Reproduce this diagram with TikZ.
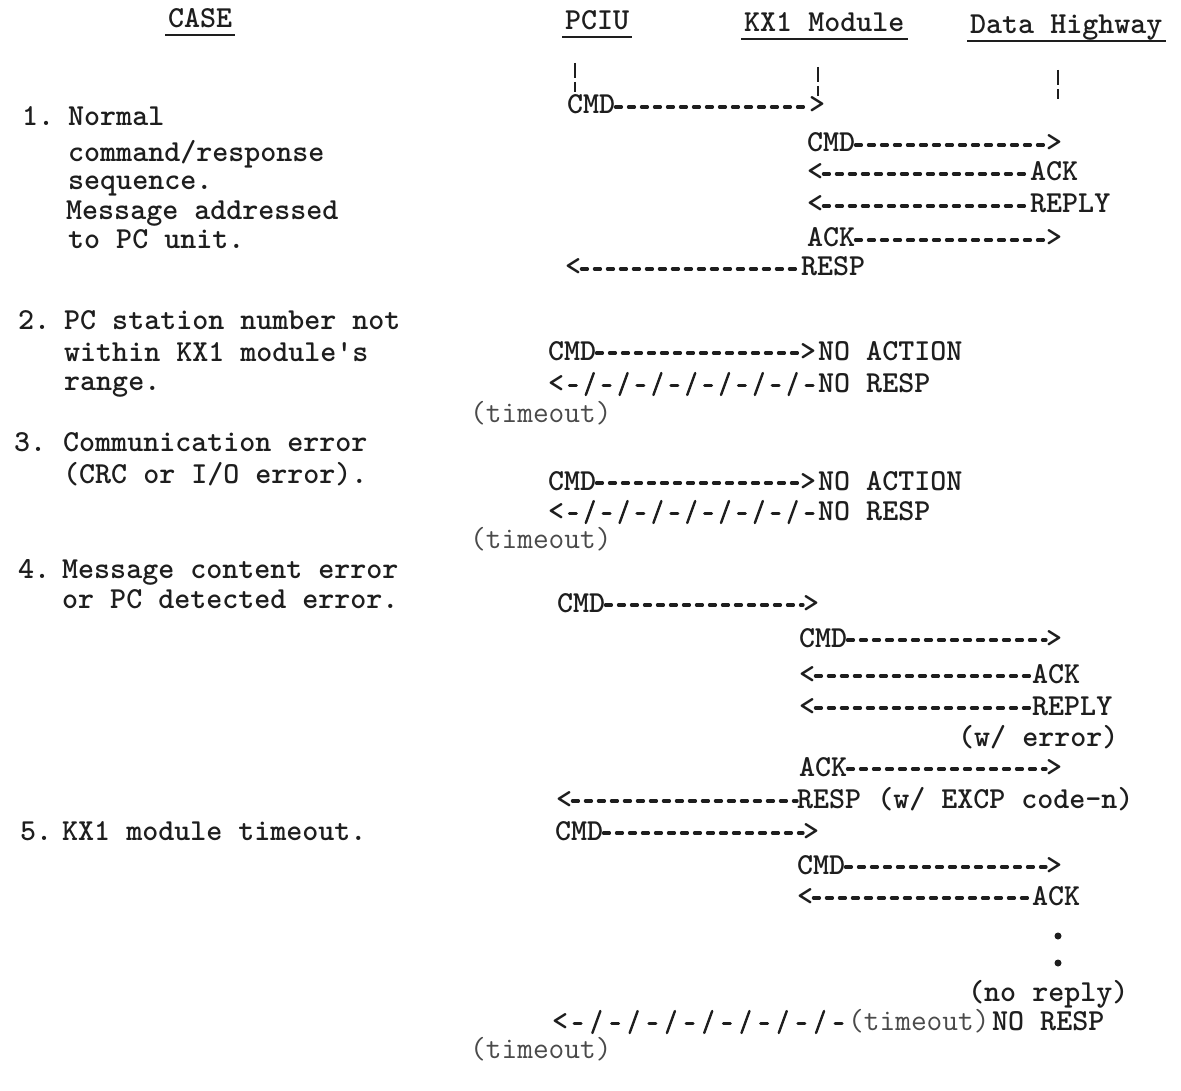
\documentclass[tikz,border=0pt]{standalone}
\usepackage{fontspec}
\usetikzlibrary{calc}
\definecolor{ink}{HTML}{1E1E1E}
\definecolor{ink2}{HTML}{4A4A4A}
\newcommand\dashconn[2]{\draw[dsh] ([yshift=7pt]#1.base east) -- ([yshift=7pt]#2.base west);}
\newcommand\slashconn[3]{%
  \path ([yshift=7pt]#1.base east) coordinate (sL) ([yshift=7pt]#2.base west) coordinate (sR);
  \foreach \i in {0,...,#3}{%
    \pgfmathsetmacro\f{(\i+0.5)/(#3+1)}
    \coordinate (sP) at ($(sL)!\f!(sR)$);
    \ifodd\i\relax
      \draw[slw] ([shift={(-4pt,-10pt)}]sP) -- ([shift={(4pt,12pt)}]sP);
    \else
      \draw[sld] ([xshift=-3.5pt]sP) -- ([xshift=3.5pt]sP);
    \fi
  }}
\begin{document}
\begin{tikzpicture}[x=1pt,y=-1pt,
  txt/.style={font=\ttfamily\bfseries\fontsize{30.5}{34}\selectfont, anchor=base west, inner sep=0pt, text=ink},
  lite/.style={txt, font=\ttfamily\fontsize{30.5}{34}\selectfont, text=ink2},
  dsh/.style={draw=ink, line width=3.2pt, line cap=round, dash pattern=on 6pt off 7pt},
  slw/.style={draw=ink, line width=2.4pt, line cap=round},
  sld/.style={draw=ink, line width=3pt, line cap=round},
  ul/.style={draw=ink, line width=2.4pt},
  life/.style={draw=ink, line width=2.4pt},
  dotm/.style={fill=ink}]
\fill[white] (0,0) rectangle (1181,1091);
\useasboundingbox (0,0) rectangle (1181,1091);

% ---------- headers ----------
\node[txt] (hcase) at (168,28) {CASE};
\node[txt] (hpciu) at (565,30) {PCIU};
\node[txt] (hkx) at (744,32) {KX1 Module};
\node[txt] (hdh) at (970,34) {Data Highway};
\foreach \h in {hcase,hpciu,hkx,hdh}
  \draw[ul] ([shift={(-3pt,-7pt)}]\h.base west) -- ([shift={(3pt,-7pt)}]\h.base east);

% ---------- lifelines ----------
\coordinate (l1) at (575,63);
\coordinate (l2) at (818,67);
\coordinate (l3) at (1058,70);
\foreach \l in {l1,l2,l3}{
  \draw[life] (\l) -- ++(0,15);
  \draw[life] ([yshift=-19pt]\l) -- ++(0,10);
}

% ---------- left column: cases ----------
\node[txt] (n1) at (22,126) {1.};
\node[txt] (t1a) at (68,126) {Normal};
\node[txt] (t1b) at (68,162) {command/response};
\node[txt] (t1c) at (68,190) {sequence.};
\node[txt] (t1d) at (66,220) {Message addressed};
\node[txt] (t1e) at (68,249) {to PC unit.};

\node[txt] (n2) at (18,330) {2.};
\node[txt] (t2a) at (64,330) {PC station number not};
\node[txt] (t2b) at (64,362) {within KX1 module's};
\node[txt] (t2c) at (64,390) {range.};

\node[txt] (n3) at (14,451) {3.};
\node[txt] (t3a) at (63,451) {Communication error};
\node[txt] (t3b) at (63,483) {(CRC or I/O error).};

\node[txt] (n4) at (18,578) {4.};
\node[txt] (t4a) at (62,578) {Message content error};
\node[txt] (t4b) at (62,608) {or PC detected error.};

\node[txt] (n5) at (20,840) {5.};
\node[txt] (t5a) at (62,840) {KX1 module timeout.};

% ---------- case 1 ----------
\node[txt] (r1a) at (567,114) {CMD};
\node[txt] (r1at) at (809,114) {>};
\dashconn{r1a}{r1at}
\node[txt] (r1b) at (807,152) {CMD};
\node[txt] (r1bt) at (1046,152) {>};
\dashconn{r1b}{r1bt}
\node[txt] (r1ct) at (807,181) {<};
\node[txt] (r1c) at (1030,181) {ACK};
\dashconn{r1ct}{r1c}
\node[txt] (r1dt) at (807,213) {<};
\node[txt] (r1d) at (1030,213) {REPLY};
\dashconn{r1dt}{r1d}
\node[txt] (r1e) at (807,247) {ACK};
\node[txt] (r1et) at (1046,247) {>};
\dashconn{r1e}{r1et}
\node[txt] (r1ft) at (565,276) {<};
\node[txt] (r1f) at (801,276) {RESP};
\dashconn{r1ft}{r1f}

% ---------- case 2 ----------
\node[txt] (r2a) at (548,360) {CMD};
\node[txt] (r2at) at (800,360) {>};
\node[txt] (r2an) at (818,360) {NO ACTION};
\dashconn{r2a}{r2at}
\node[txt] (r2bt) at (548,392) {<};
\node[txt] (r2b) at (818,392) {NO RESP};
\slashconn{r2bt}{r2b}{14}
\node[lite] (r2c) at (470,422) {(timeout)};

% ---------- case 3 ----------
\node[txt] (r3a) at (548,490) {CMD};
\node[txt] (r3at) at (800,490) {>};
\node[txt] (r3an) at (818,490) {NO ACTION};
\dashconn{r3a}{r3at}
\node[txt] (r3bt) at (548,520) {<};
\node[txt] (r3b) at (818,520) {NO RESP};
\slashconn{r3bt}{r3b}{14}
\node[lite] (r3c) at (470,548) {(timeout)};

% ---------- case 4 ----------
\node[txt] (r4a) at (557,612) {CMD};
\node[txt] (r4at) at (803,612) {>};
\dashconn{r4a}{r4at}
\node[txt] (r4b) at (799,647) {CMD};
\node[txt] (r4bt) at (1046,647) {>};
\dashconn{r4b}{r4bt}
\node[txt] (r4ct) at (799,683) {<};
\node[txt] (r4c) at (1032,683) {ACK};
\dashconn{r4ct}{r4c}
\node[txt] (r4dt) at (799,715) {<};
\node[txt] (r4d) at (1032,715) {REPLY};
\dashconn{r4dt}{r4d}
\node[txt] (r4w) at (958,746) {(w/ error)};
\node[txt] (r4e) at (799,776) {ACK};
\node[txt] (r4et) at (1046,776) {>};
\dashconn{r4e}{r4et}
\node[txt] (r4ft) at (556,808) {<};
\node[txt] (r4f) at (797,808) {RESP (w/ EXCP code-n)};
\dashconn{r4ft}{r4f}

% ---------- case 5 ----------
\node[txt] (r5a) at (555,840) {CMD};
\node[txt] (r5at) at (803,840) {>};
\dashconn{r5a}{r5at}
\node[txt] (r5b) at (797,874) {CMD};
\node[txt] (r5bt) at (1046,874) {>};
\dashconn{r5b}{r5bt}
\node[txt] (r5ct) at (797,905) {<};
\node[txt] (r5c) at (1032,905) {ACK};
\dashconn{r5ct}{r5c}
\fill[dotm] (1058,936) circle (3.5pt);
\fill[dotm] (1058,963) circle (3.5pt);
\node[txt] (r5n) at (968,1001) {(no reply)};
\node[txt] (r5dt) at (552,1030) {<};
\node[lite] (r5d) at (848,1030) {(timeout)};
\node[txt] (r5dn) at (992,1030) {NO RESP};
\slashconn{r5dt}{r5d}{14}
\node[lite] (r5e) at (470,1058) {(timeout)};
\end{tikzpicture}
\end{document}
